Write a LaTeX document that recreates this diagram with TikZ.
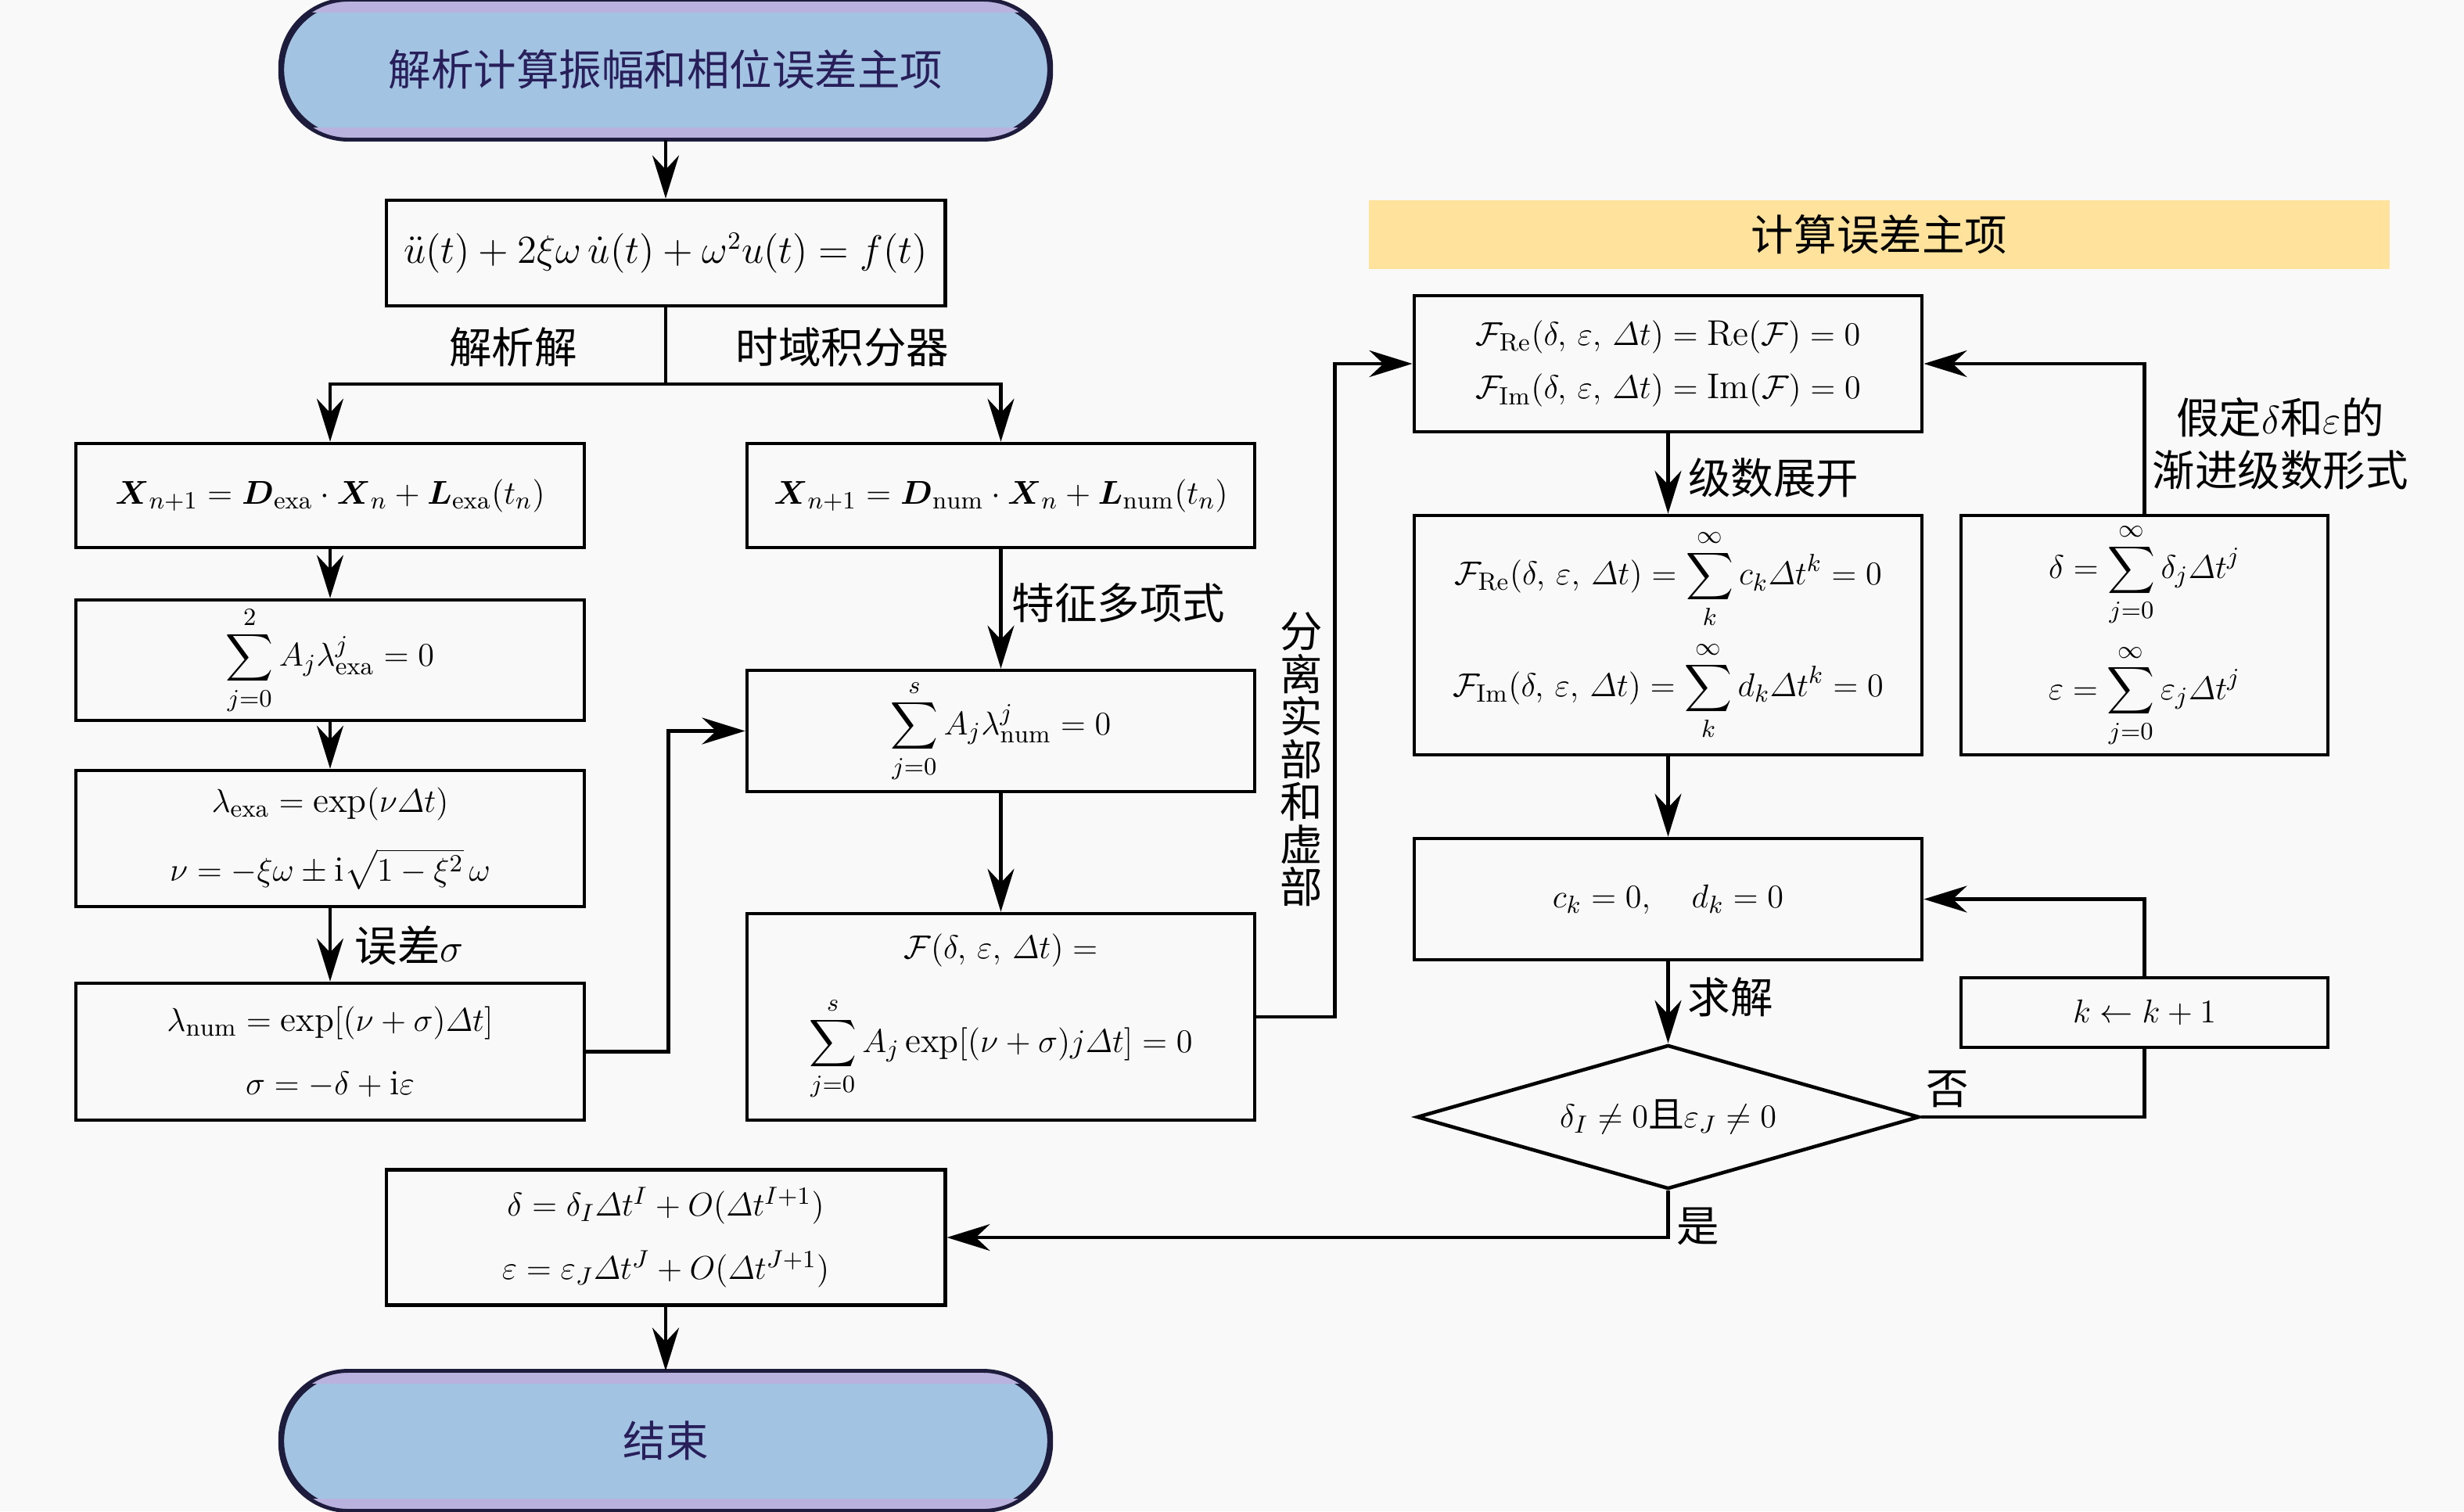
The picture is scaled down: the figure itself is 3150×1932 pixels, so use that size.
\documentclass[tikz,border=0pt]{standalone}
\usepackage{amsmath}
\usepackage{fontspec}
\newfontfamily\cjk{Noto Sans CJK SC}
\usetikzlibrary{arrows.meta,shapes.geometric,calc}
\definecolor{bgc}{RGB}{249,249,249}
\definecolor{termblue}{RGB}{162,196,226}
\definecolor{termlav}{RGB}{186,178,222}
\definecolor{termline}{RGB}{30,28,60}
\definecolor{termtext}{RGB}{40,30,90}
\definecolor{bannerc}{RGB}{255,226,156}
\newcommand{\Dt}{\mathchar"0101}
\begin{document}
\begin{tikzpicture}[x=0.01cm,y=-0.01cm,
  box/.style={draw=black,line width=1.3pt,align=center,inner sep=0pt,font=\fontsize{13}{16}\selectfont},
  term/.style={draw=termline,line width=1.4pt,fill=termblue,rounded corners=0.87cm,minimum width=9.8cm,minimum height=1.74cm,font=\cjk\fontsize{15.5}{19}\selectfont,text=termtext},
  lbl/.style={font=\cjk\fontsize{15.5}{19}\selectfont,inner sep=0pt,align=center},
  conn/.style={line width=1.2pt},
  arr/.style={conn,-{Stealth[length=5.5mm,width=3.4mm,inset=1.8mm]}},
  dia/.style={draw=black,line width=1.3pt,diamond,aspect=3.5,inner sep=0pt,minimum width=6.42cm,minimum height=1.84cm,font=\fontsize{13}{16}\selectfont}
]
\fill[bgc] (0,0) rectangle (3150,1932);
\useasboundingbox (0,0) rectangle (3150,1932);

% start terminator
\node[term] (start) at (851,89) {解析计算振幅和相位误差主项};
\begin{scope}
  \clip[rounded corners=0.87cm] (start.south west) rectangle (start.north east);
  \fill[termlav] (start.north west) rectangle ($(start.north east)+(0,16)$);
  \fill[termlav] ($(start.south west)+(0,-16)$) rectangle (start.south east);
\end{scope}
\draw[termline,line width=1.4pt,rounded corners=0.87cm] (start.south west) rectangle (start.north east);

% left column
\node[box,minimum width=7.14cm,minimum height=1.35cm,font=\fontsize{13.5}{16.5}\selectfont] (eq) at (851,323.5)
  {$\ddot u(t)+2\xi\omega\,\dot u(t)+\omega^{2}u(t)=f(t)$};
\node[box,minimum width=6.5cm,minimum height=1.33cm] (xexa) at (422,633.5)
  {$\boldsymbol X_{n+1}=\boldsymbol D_{\mathrm{exa}}\cdot\boldsymbol X_n+\boldsymbol L_{\mathrm{exa}}(t_n)$};
\node[box,minimum width=6.49cm,minimum height=1.33cm] (xnum) at (1279.5,633.5)
  {$\boldsymbol X_{n+1}=\boldsymbol D_{\mathrm{num}}\cdot\boldsymbol X_n+\boldsymbol L_{\mathrm{num}}(t_n)$};
\node[box,minimum width=6.5cm,minimum height=1.54cm] (sumexa) at (422,844)
  {$\displaystyle\sum_{j=0}^{2}A_j\lambda_{\mathrm{exa}}^{j}=0$};
\node[box,minimum width=6.5cm,minimum height=1.74cm] (lamexa) at (422,1072)
  {$\lambda_{\mathrm{exa}}=\exp(\nu\Dt t)$\\[9pt]$\nu=-\xi\omega\pm\mathrm{i}\sqrt{1-\xi^{2}}\,\omega$};
\node[box,minimum width=6.5cm,minimum height=1.75cm] (lamnum) at (422,1344.5)
  {$\lambda_{\mathrm{num}}=\exp[(\nu+\sigma)\Dt t]$\\[7pt]$\sigma=-\delta+\mathrm{i}\varepsilon$};
\node[box,minimum width=6.49cm,minimum height=1.55cm] (sumnum) at (1279.5,934.5)
  {$\displaystyle\sum_{j=0}^{s}A_j\lambda_{\mathrm{num}}^{j}=0$};
\node[box,minimum width=6.49cm,minimum height=2.64cm] (Fbox) at (1279.5,1300)
  {$\mathcal{F}(\delta,\,\varepsilon,\,\Dt t)=$\\[10pt]$\displaystyle\sum_{j=0}^{s}A_j\exp[(\nu+\sigma)j\Dt t]=0$};
\node[box,minimum width=7.14cm,minimum height=1.73cm] (res) at (851,1582)
  {$\delta=\delta_I\Dt t^{I}+O(\Dt t^{I+1})$\\[7pt]$\varepsilon=\varepsilon_J\Dt t^{J}+O(\Dt t^{J+1})$};
\node[term] (end) at (851,1842) {结束};
\begin{scope}
  \clip[rounded corners=0.87cm] (end.south west) rectangle (end.north east);
  \fill[termlav] (end.north west) rectangle ($(end.north east)+(0,16)$);
  \fill[termlav] ($(end.south west)+(0,-16)$) rectangle (end.south east);
\end{scope}
\draw[termline,line width=1.4pt,rounded corners=0.87cm] (end.south west) rectangle (end.north east);

% right column
\node[fill=bannerc,minimum width=13.05cm,minimum height=0.88cm,font=\cjk\fontsize{15.5}{19}\selectfont] (banner) at (2402.5,300) {计算误差主项};
\node[box,minimum width=6.49cm,minimum height=1.74cm] (FRe) at (2132.5,465)
  {$\mathcal F_{\mathrm{Re}}(\delta,\,\varepsilon,\,\Dt t)=\mathrm{Re}(\mathcal F)=0$\\[3.5pt]$\mathcal F_{\mathrm{Im}}(\delta,\,\varepsilon,\,\Dt t)=\mathrm{Im}(\mathcal F)=0$};
\node[box,minimum width=6.49cm,minimum height=3.06cm] (Fser) at (2132.5,812)
  {$\mathcal F_{\mathrm{Re}}(\delta,\,\varepsilon,\,\Dt t)=\displaystyle\sum_{k}^{\infty}c_k\Dt t^{k}=0$\\[3.5pt]$\mathcal F_{\mathrm{Im}}(\delta,\,\varepsilon,\,\Dt t)=\displaystyle\sum_{k}^{\infty}d_k\Dt t^{k}=0$};
\node[box,minimum width=4.69cm,minimum height=3.06cm] (dser) at (2741.5,812)
  {$\delta=\displaystyle\sum_{j=0}^{\infty}\delta_j\Dt t^{j}$\\[5.5pt]$\varepsilon=\displaystyle\sum_{j=0}^{\infty}\varepsilon_j\Dt t^{j}$};
\node[box,minimum width=6.49cm,minimum height=1.55cm] (ck) at (2132.5,1149.5)
  {$c_k=0,\quad d_k=0$};
\node[box,minimum width=4.69cm,minimum height=0.89cm] (kbox) at (2741.5,1294.5)
  {$k\leftarrow k+1$};
\node[dia] (dec) at (2132.5,1428) {$\delta_I\neq0$\cjk 且$\varepsilon_J\neq0$};

% connectors
\draw[arr] (start) -- (eq);
\coordinate (br) at (851,491);
\draw[conn] (eq.south) -- (br);
\draw[arr] (br) -| (xexa.north);
\draw[arr] (br) -| (xnum.north);
\node[lbl] (l1) at (656,444) {解析解};
\node[lbl] (l2) at (1077,444) {时域积分器};
\draw[arr] (xexa) -- (sumexa);
\draw[arr] (sumexa) -- (lamexa);
\draw[arr] (lamexa) -- (lamnum);
\node[lbl] (l3) at (523,1209) {误差$\sigma$};
\draw[arr] (lamnum.east) -- ++(105,0) |- (sumnum.west);
\draw[arr] (xnum) -- (sumnum);
\node[lbl] (l4) at (1430,771) {特征多项式};
\draw[arr] (sumnum) -- (Fbox);
\draw[arr] (Fbox.east) -- ++(100,0) |- (FRe.west);
\node[lbl,font=\cjk\fontsize{15.5}{15.5}\selectfont] (l5) at (1664,971) {分\\离\\实\\部\\和\\虚\\部};
\draw[arr] (FRe) -- (Fser);
\node[lbl] (l6) at (2267,611) {级数展开};
\draw[arr] (dser.north) |- (FRe.east);
\node[lbl] (l7) at (2915,567) {假定$\delta$和$\varepsilon$的\\渐进级数形式};
\draw[arr] (Fser) -- (ck);
\draw[arr] (ck) -- (dec);
\node[lbl] (l8) at (2212,1275) {求解};
\draw[conn] (dec.east) -| (kbox.south);
\draw[arr] (kbox.north) |- (ck.east);
\node[lbl] (l9) at (2490,1392) {否};
\draw[arr] (dec.south) |- (res.east);
\node[lbl] (l10) at (2171,1568) {是};
\draw[arr] (res) -- (end);
\end{tikzpicture}
\end{document}
